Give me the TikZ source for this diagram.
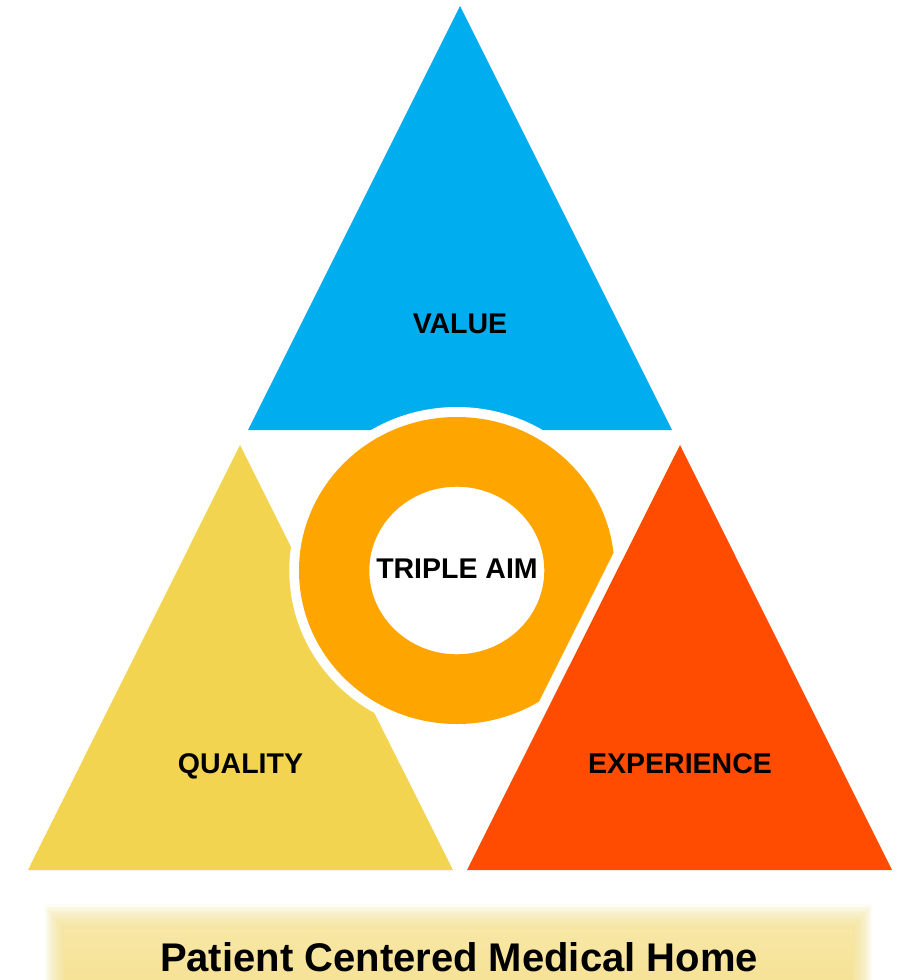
\documentclass[tikz,border=0pt]{standalone}
\usepackage{fontspec}
\setmainfont{Liberation Sans}
\begin{document}
\begin{tikzpicture}[x=1pt,y=-1pt,
  lbl/.style={font=\fontsize{28.5}{34}\selectfont\bfseries, text=black, inner sep=0pt, anchor=base},
  ttl/.style={font=\fontsize{40}{48}\selectfont\bfseries, text=black, inner sep=0pt, anchor=base}]
\definecolor{cblue}{RGB}{0,174,239}
\definecolor{cyel}{RGB}{242,212,80}
\definecolor{corange}{RGB}{255,165,0}
\definecolor{cred}{RGB}{255,76,0}
\definecolor{cban}{RGB}{246,226,140}
\definecolor{cbantop}{RGB}{250,236,170}
\useasboundingbox (0,0) rectangle (897,980);
\fill[white] (0,0) rectangle (897,980);
% banner glow
\foreach \i in {0,...,19}{
  \fill[cban, opacity=0.07] ({64-\i},{929-1.3*\i}) rectangle ({853+\i},990);
}
\shade[top color=cbantop, bottom color=cban, opacity=0.5] (64,929) rectangle (853,980);
% triangles
\fill[cblue] (460,6) -- (672,430) -- (248,430) -- cycle;
\fill[cyel] (240,445) -- (453,870) -- (28,870) -- cycle;
% ring with white halo
\coordinate (c) at (456.8,570.5);
\fill[white] (c) ellipse [x radius=167.5, y radius=163.5];
\fill[corange, even odd rule] (c) ellipse [x radius=157.8, y radius=153.5]
  (c) ellipse [x radius=87.5, y radius=83.8];
% red triangle with white halo
\filldraw[white, line width=22pt, line join=round] (680,445) -- (892,870) -- (467,870) -- cycle;
\fill[cred] (680,445) -- (892,870) -- (467,870) -- cycle;
% labels
\node[lbl] (value) at (460,333.2) {VALUE};
\node[lbl] (aim) at (457,578.5) {TRIPLE AIM};
\node[lbl] (quality) at (240.5,773.5) {QUALITY};
\node[lbl] (exp) at (680,773.5) {EXPERIENCE};
\node[ttl] (title) at (459,971) {Patient Centered Medical Home};
\end{tikzpicture}
\end{document}
